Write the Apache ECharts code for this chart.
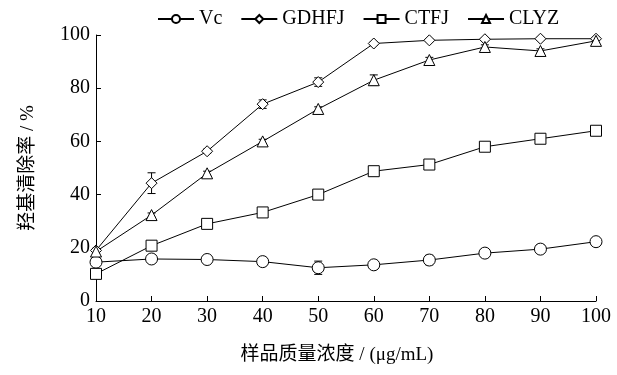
<!DOCTYPE html>
<html>
<head>
<meta charset="utf-8">
<script src="https://cdn.jsdelivr.net/npm/echarts@6/dist/echarts.min.js"></script>
<style>
html, body { margin: 0; padding: 0; background: #fff; }
#chart { width: 617px; height: 375px; }
</style>
</head>
<body>
<div id="chart"></div>
<script>
const concentrations = [10, 20, 30, 40, 50, 60, 70, 80, 90, 100];
const vc     = [14.6, 15.8, 15.6, 14.8, 12.5, 13.6, 15.4, 18.0, 19.5, 22.3];
const gdhfj  = [19.0, 44.3, 56.3, 74.0, 82.3, 96.8, 98.0, 98.4, 98.6, 98.6];
const ctfj   = [10.2, 20.8, 29.0, 33.3, 40.0, 48.8, 51.3, 58.0, 61.0, 64.0];
const clyz   = [18.6, 32.3, 48.0, 60.0, 72.2, 83.0, 90.6, 95.5, 94.0, 97.8];
// error bar half widths
const vcErr    = [1.5, 0.8, 0.8, 1.5, 2.5, 1.0, 1.8, 1.6, 1.6, 1.4];
const gdhfjErr = [0.8, 3.9, 0.8, 1.6, 1.6, 0.6, 0.5, 0.5, 0.5, 0.5];
const ctfjErr  = [1.5, 0.8, 0.8, 0.8, 0.8, 0.8, 0.8, 0.8, 0.8, 0.8];
const clyzErr  = [0.8, 0.8, 0.8, 0.8, 0.8, 2.0, 1.0, 0.8, 0.8, 0.8];

const serif = '"Liberation Serif", "Noto Sans CJK SC", serif';

const myChart = echarts.init(document.getElementById('chart'));

function lineSeries(name, values, symbol, size) {
  return {
    name: name,
    type: 'line',
    z: 3,
    data: concentrations.map((x, i) => [x, values[i]]),
    symbol: symbol,
    symbolSize: size,
    showAllSymbol: true,
    lineStyle: { color: '#000', width: 1 },
    itemStyle: { color: '#fff', borderColor: '#000', borderWidth: 1 },
    emphasis: { disabled: true }
  };
}

function errorSeries(values, errs) {
  return {
    type: 'custom',
    z: 1,
    silent: true,
    data: concentrations.map((x, i) => [x, values[i] - errs[i], values[i] + errs[i]]),
    renderItem: function (params, api) {
      const lo = api.coord([api.value(0), api.value(1)]);
      const hi = api.coord([api.value(0), api.value(2)]);
      const w = 4;
      const style = { stroke: '#000', lineWidth: 1 };
      return {
        type: 'group',
        children: [
          { type: 'line', shape: { x1: lo[0], y1: lo[1], x2: hi[0], y2: hi[1] }, style: style },
          { type: 'line', shape: { x1: lo[0] - w, y1: lo[1], x2: lo[0] + w, y2: lo[1] }, style: style },
          { type: 'line', shape: { x1: hi[0] - w, y1: hi[1], x2: hi[0] + w, y2: hi[1] }, style: style }
        ]
      };
    }
  };
}

myChart.setOption({
  animation: false,
  backgroundColor: '#fff',
  textStyle: { fontFamily: serif, color: '#000' },
  grid: { left: 96, right: 21, top: 35, bottom: 74 },
  legend: {
    top: 4,
    left: 152,
    itemGap: 18,
    itemWidth: 36,
    itemHeight: 10,
    textStyle: { fontFamily: serif, fontSize: 20, color: '#000' },
    data: ['Vc', 'GDHFJ', 'CTFJ', 'CLYZ']
  },
  xAxis: {
    type: 'value',
    min: 10,
    max: 100,
    interval: 10,
    name: '样品质量浓度 / (μg/mL)',
    nameLocation: 'middle',
    nameGap: 45,
    nameTextStyle: { fontFamily: serif, fontSize: 19, color: '#000', padding: [0, 18, 0, 0] },
    axisLine: { lineStyle: { color: '#000', width: 1 } },
    axisTick: { inside: true, length: 5, lineStyle: { color: '#000' } },
    axisLabel: { fontFamily: serif, fontSize: 20, color: '#000', margin: 6 },
    splitLine: { show: false }
  },
  yAxis: {
    type: 'value',
    min: 0,
    max: 100,
    interval: 20,
    name: '羟基清除率 / %',
    nameLocation: 'middle',
    nameRotate: 90,
    nameGap: 58,
    nameTextStyle: { fontFamily: serif, fontSize: 19, color: '#000' },
    axisLine: { show: true, lineStyle: { color: '#000', width: 1 } },
    axisTick: { show: true, inside: true, length: 5, lineStyle: { color: '#000' } },
    axisLabel: { fontFamily: serif, fontSize: 20, color: '#000', margin: 6 },
    splitLine: { show: false }
  },
  series: [
    errorSeries(vc, vcErr),
    errorSeries(gdhfj, gdhfjErr),
    errorSeries(ctfj, ctfjErr),
    errorSeries(clyz, clyzErr),
    lineSeries('Vc', vc, 'circle', 12),
    lineSeries('GDHFJ', gdhfj, 'diamond', 11),
    lineSeries('CTFJ', ctfj, 'rect', 11),
    lineSeries('CLYZ', clyz, 'triangle', 11)
  ]
});
</script>
</body>
</html>
